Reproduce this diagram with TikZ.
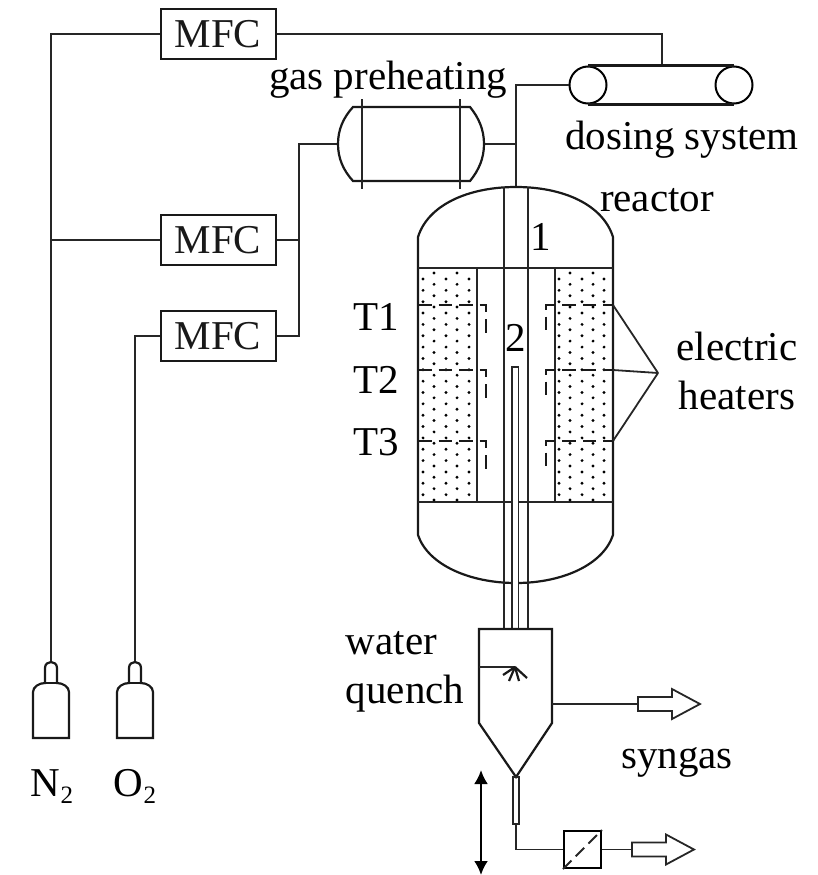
\documentclass[tikz,border=0pt]{standalone}
\usepackage{fontspec}
\setmainfont{Liberation Serif}
\usetikzlibrary{arrows.meta, calc}
\newcommand{\subtwo}{\raisebox{-7pt}{\fontsize{25}{25}\selectfont 2}}
\tikzset{
    pipe/.style={line width=1.8pt, black!85},
    wall/.style={line width=2.2pt, black!90},
    tc/.style={line width=2.1pt, black!90, dash pattern=on 13.5pt off 7pt},
    label/.style={anchor=base, inner sep=0pt, font=\fontsize{41}{49}\selectfont},
    mfc/.style={draw, line width=2pt, black!90, minimum width=115pt, minimum height=50pt, inner sep=0pt, font=\fontsize{41}{41}\selectfont},
    roller/.style={draw, circle, line width=2pt, minimum size=37pt, inner sep=0pt}
}
\begin{document}
\begin{tikzpicture}[x=1pt, y=-1pt]
    \useasboundingbox (0,0) rectangle (818,875);
    \coordinate (N2Valve) at (51,662);
    \coordinate (O2Valve) at (135,662);
    \coordinate (HeatL) at (338,144);
    \coordinate (HeatR) at (484,144);
    \coordinate (RiserBend) at (516,85);
    \coordinate (ReactorTop) at (516,187);
    \coordinate (HeaterTip) at (658,373);
    \coordinate (QuenchOut) at (552,704);
    \coordinate (SyngasEnd) at (638,704);
    \coordinate (DrainEnd) at (516,824);
    \coordinate (SolidEnd) at (632,849.5);
    \coordinate (TravelTop) at (481,770);
    \coordinate (TravelBot) at (481,875);

    \node[mfc] (MFCa) at (218,34) {MFC};
    \node[mfc] (MFCb) at (218,240) {MFC};
    \node[mfc] (MFCc) at (218,336) {MFC};
    \node[roller] (RollerL) at (588,85) {};
    \node[roller] (RollerR) at (734,85) {};
    \node[draw, line width=2pt, minimum size=37pt, inner sep=0pt] (Filter) at (582.5,849.5) {};

    % gas lines
    \draw[pipe] (MFCa.west) -| (N2Valve);
    \draw[pipe] (MFCb.west) -- (MFCb.west -| N2Valve);
    \draw[pipe] (MFCc.west) -| (O2Valve);
    \draw[pipe] (MFCa.east) -| (662,66);
    \draw[pipe] (MFCb.east) -- (299,240);
    \draw[pipe] (MFCc.east) -| (299,144) -- (HeatL);
    \draw[pipe] (HeatR) -- (HeatR -| RiserBend);
    \draw[pipe] (RollerL.west) -- (RiserBend) -- (ReactorTop);

    % dosing belt
    \draw[wall] (RollerL.north) -- (RollerR.north);
    \draw[wall] (RollerL.south) -- (RollerR.south);

    % preheater
    \draw[wall] (353,107) -- (470,107) .. controls (479,118) and (484,130) .. (HeatR)
        .. controls (484,158) and (479,170) .. (470,181) -- (353,181)
        .. controls (343,170) and (338,158) .. (HeatL)
        .. controls (338,130) and (343,118) .. (353,107) -- cycle;
    \draw[pipe] (362,99) -- (362,189);
    \draw[pipe] (460,99) -- (460,189);

    % reactor
    \draw[wall] (418,535) -- (418,237) .. controls (428,205) and (468,187) .. (ReactorTop)
        .. controls (564,187) and (603,205) .. (613,237) -- (613,535)
        .. controls (603,565) and (562,583) .. (516,583)
        .. controls (470,583) and (428,565) .. (418,535) -- cycle;
    \draw[pipe] (418,268) -- (613,268);
    \draw[pipe] (418,502) -- (613,502);
    \draw[pipe] (477,268) -- (477,502);
    \draw[pipe] (555,268) -- (555,502);
    \foreach \x in {423,446,469,559,582,604} {
        \foreach \k in {0,...,19} {
            \fill (\x,279+\k*11.35) circle (1.6pt);
        }
    }
    \foreach \x in {434,457,570,593} {
        \foreach \k in {0,...,20} {
            \fill (\x,273+\k*11.35) circle (1.6pt);
        }
    }
    \draw[pipe] (504,187) -- (504,629);
    \draw[pipe] (528,187) -- (528,629);
    \draw[pipe, fill=white] (512,629) -- (512,367) -- (518.5,367) -- (518.5,629);

    % thermocouples and heaters
    \foreach \y in {305,370,441} {
        \draw[tc] (418,\y) -- (486,\y) -- (486,\y+29);
        \draw[tc, dash phase=3.5pt] (613,\y) -- (546,\y) -- (546,\y+29);
        \draw[pipe] (613,\y) -- (HeaterTip);
    }

    % quench vessel
    \draw[wall] (479,629) -- (552,629) -- (552,723) -- (516,777) -- (479,723) -- cycle;
    \draw[pipe] (479,667) -- (515,667);
    \draw[wall] (515,667) -- (503,675);
    \draw[wall] (515,667) -- (509,681);
    \draw[wall] (515,667) -- (519,681);
    \draw[wall] (515,667) -- (527,678);
    \draw[pipe] (513,777) rectangle (519,824);
    \draw[pipe] (DrainEnd) |- (Filter.west);
    \draw[pipe, dash pattern=on 12pt off 6pt] (Filter.south west) -- (Filter.north east);
    \draw[pipe] (QuenchOut) -- (SyngasEnd);
    \draw[pipe] (Filter.east) -- (SolidEnd);
    \foreach \p in {SyngasEnd,SolidEnd} {
        \draw[pipe, fill=white] (\p) ++(0,-7) -- ++(34,0) -- ++(0,-8) -- ++(28,15) -- ++(-28,15)
            -- ++(0,-8) -- ++(-34,0) -- cycle;
    }
    \draw[line width=2.4pt, {Latex[length=14pt,width=14pt]}-{Latex[length=14pt,width=14pt]}] (TravelTop) -- (TravelBot);

    % labels
    \node[label] (GasLabel) at (388,89) {gas preheating};
    \node[label] (DoseLabel) at (682,149) {dosing system};
    \node[label] (ReactorLabel) at (657,211) {reactor};
    \node[label] (ZoneA) at (541,250) {1};
    \node[label] (ZoneB) at (516,351) {2};
    \node[label] (TA) at (376,330) {T1};
    \node[label] (TB) at (376,393) {T2};
    \node[label] (TC) at (376,455) {T3};
    \node[label, align=center] (HeaterLabel) at (737,409) {electric\\heaters};
    \node[label, align=left] (WaterLabel) at (405,703) {water\\quench};
    \node[label] (SyngasLabel) at (677,768) {syngas};
    \node[label] (N2Label) at (52,796) {N\subtwo};
    \node[label] (O2Label) at (135,796) {O\subtwo};

    % gas bottles
    \foreach \v in {N2Valve,O2Valve} {
        \begin{scope}[shift={(\v)}]
            \draw[wall] (-18,76) -- (-18,30) .. controls (-18,25) and (-12,21) .. (-6,21)
                -- (-6,6) .. controls (-6,2) and (-3,0) .. (0,0)
                .. controls (3,0) and (6,2) .. (6,6) -- (6,21)
                .. controls (12,21) and (18,25) .. (18,30) -- (18,76) -- cycle;
            \draw[wall] (-6,21) -- (6,21);
        \end{scope}
    }
\end{tikzpicture}
\end{document}
